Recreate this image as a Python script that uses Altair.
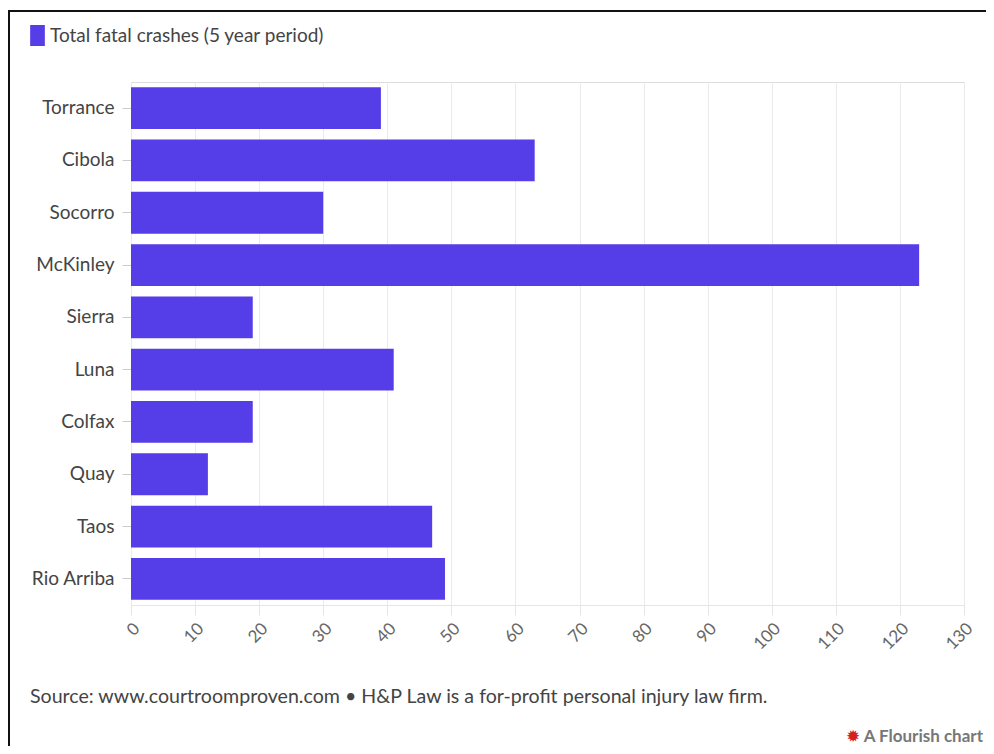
import altair as alt
import pandas as pd

counties = ["Torrance", "Cibola", "Socorro", "McKinley", "Sierra", "Luna",
            "Colfax", "Quay", "Taos", "Rio Arriba"]
crashes = [39, 63, 30, 123, 19, 41, 19, 12, 47, 49]
series_name = "Total fatal crashes (5 year period)"
x_ticks = list(range(0, 140, 10))
footer = "Source: www.courtroomproven.com \u2022 H&P Law is a for-profit personal injury law firm."
brand = "A Flourish chart"

FONT = "Lato"
BAR = "#553DE8"

df = pd.DataFrame({"county": counties, "value": crashes, "series": series_name})

bars = alt.Chart(df).mark_bar(color=BAR).encode(
    x=alt.X("value:Q",
            scale=alt.Scale(domain=[0, 130], nice=False),
            axis=alt.Axis(values=x_ticks, title=None, labelAngle=315,
                          labelAlign="right", labelBaseline="top",
                          labelFontSize=17, labelColor="#666666", labelFont=FONT,
                          tickSize=10, tickColor="#e6e6e6", labelPadding=5,
                          domainColor="#e6e6e6", gridColor="#ebebeb")),
    y=alt.Y("county:N", sort=None,
            scale=alt.Scale(paddingInner=0.2, paddingOuter=0.1),
            axis=alt.Axis(title=None, labelFontSize=19, labelColor="#444444",
                          labelFont=FONT, tickSize=9, tickColor="#cccccc",
                          labelPadding=8, domain=False, grid=False)),
    color=alt.Color("series:N", scale=alt.Scale(range=[BAR]),
                    legend=alt.Legend(title=None, orient="none",
                                      legendX=-104, legendY=-57,
                                      symbolType="M -0.7 -1 L 0.7 -1 L 0.7 1 L -0.7 1 Z",
                                      symbolSize=441, symbolStrokeWidth=0,
                                      symbolOpacity=1,
                                      labelFontSize=19, labelColor="#444444",
                                      labelFont=FONT, labelLimit=600, labelOffset=2)),
)

foot = alt.Chart(pd.DataFrame({"t": [footer]})).mark_text(
    align="left", baseline="middle", fontSize=19.6, font=FONT, color="#444444"
).encode(text="t:N", x=alt.value(-101), y=alt.value(615))

brand_txt = alt.Chart(pd.DataFrame({"t": [brand]})).mark_text(
    align="right", baseline="middle", fontSize=17, font=FONT, fontWeight="bold",
    color="#777777"
).encode(text="t:N", x=alt.value(852), y=alt.value(655))

icon = alt.Chart(pd.DataFrame({"t": ["\u2739"]})).mark_text(
    align="center", baseline="middle", fontSize=17, font="DejaVu Sans",
    color="#d42020"
).encode(text="t:N", x=alt.value(722), y=alt.value(655))

frame_top = alt.Chart(pd.DataFrame({"a": [0]})).mark_rule(
    color="#111111", strokeWidth=2
).encode(x=alt.value(-123), x2=alt.value(863), y=alt.value(-71))

frame_left = alt.Chart(pd.DataFrame({"a": [0]})).mark_rule(
    color="#111111", strokeWidth=2
).encode(x=alt.value(-122), y=alt.value(-71), y2=alt.value(672))

chart = alt.layer(bars, foot, brand_txt, icon, frame_top, frame_left).properties(
    width=833, height=523,
    autosize=alt.AutoSizeParams(type="none"),
    padding={"left": 123, "top": 74, "right": 22, "bottom": 141},
).configure_view(stroke=None).configure(background="white")

chart.save("out.html", embed_options={"renderer": "svg", "actions": False})
